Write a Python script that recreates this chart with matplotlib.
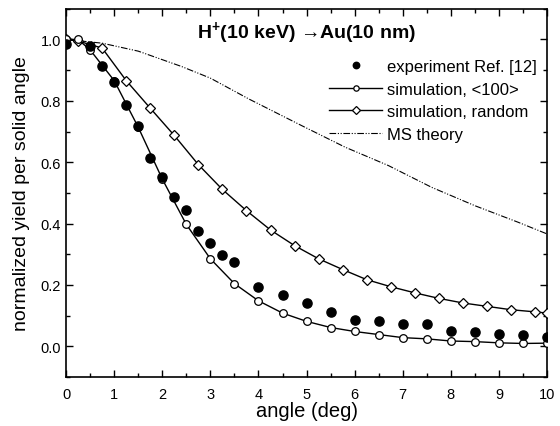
import numpy as np
import matplotlib
matplotlib.use("Agg")
import matplotlib.pyplot as plt
from matplotlib.ticker import MultipleLocator

# ---- data ----
exp_x = [0, 0.5, 0.75, 1.0, 1.25, 1.5, 1.75, 2.0, 2.25, 2.5, 2.75, 3.0, 3.25, 3.5,
         4.0, 4.5, 5.0, 5.5, 6.0, 6.5, 7.0, 7.5, 8.0, 8.5, 9.0, 9.5, 10.0]
exp_y = [0.985, 0.978, 0.913, 0.861, 0.785, 0.719, 0.613, 0.551, 0.486, 0.445, 0.377, 0.336, 0.299, 0.276,
         0.192, 0.167, 0.142, 0.112, 0.086, 0.082, 0.072, 0.072, 0.049, 0.047, 0.040, 0.035, 0.030]

sim100_x = [0, 0.25, 0.5, 1.0, 1.5, 2.0, 2.5, 3.0, 3.5, 4.0, 4.5, 5.0, 5.5, 6.0,
            6.5, 7.0, 7.5, 8.0, 8.5, 9.0, 9.5, 10.0]
sim100_y = [1.0, 1.0, 0.966, 0.866, 0.714, 0.545, 0.397, 0.285, 0.204, 0.148, 0.108, 0.081, 0.061, 0.048,
            0.038, 0.028, 0.024, 0.017, 0.015, 0.011, 0.009, 0.010]

rand_x = [0, 0.25, 0.75, 1.25, 1.75, 2.25, 2.75, 3.25, 3.75, 4.25, 4.75, 5.25, 5.75, 6.25,
          6.75, 7.25, 7.75, 8.25, 8.75, 9.25, 9.75, 10.0]
rand_y = [1.0, 0.995, 0.972, 0.866, 0.776, 0.687, 0.592, 0.511, 0.442, 0.379, 0.328, 0.285, 0.250, 0.217,
          0.194, 0.174, 0.156, 0.141, 0.130, 0.119, 0.112, 0.108]

ms_x = [0, 0.75, 1.5, 2.4, 3.0, 3.8, 4.9, 5.8, 6.7, 7.6, 8.5, 9.4, 10.0]
ms_y = [1.0, 0.988, 0.962, 0.912, 0.874, 0.806, 0.719, 0.649, 0.589, 0.518, 0.458, 0.404, 0.366]

# ---- style ----
plt.rcParams['font.family'] = ['Liberation Sans', 'DejaVu Sans']
plt.rcParams['mathtext.fontset'] = 'custom'
plt.rcParams['mathtext.rm'] = 'Liberation Sans'
plt.rcParams['mathtext.bf'] = 'Liberation Sans:bold'

fig = plt.figure(figsize=(5.6, 4.27), dpi=100)
ax = fig.add_axes([0.118, 0.115, 0.859, 0.862])

ax.plot(ms_x, ms_y, color='black', lw=0.8, linestyle=(0, (6, 1.5, 1, 1.5, 1, 1.5)),
        label='MS theory', zorder=2)
ax.plot(rand_x, rand_y, color='black', lw=1.0, marker='D', ms=5.2, mfc='white', mec='black',
        mew=0.9, label='simulation, random', zorder=3)
ax.plot(sim100_x, sim100_y, color='black', lw=1.0, marker='o', ms=5.5, mfc='white', mec='black',
        mew=0.9, label='simulation, <100>', zorder=4)
ax.plot(exp_x, exp_y, linestyle='none', marker='o', ms=6.6, color='black',
        label='experiment Ref. [12]', zorder=5)

ax.set_xlim(0, 10)
ax.set_ylim(-0.1, 1.1)
ax.xaxis.set_major_locator(MultipleLocator(1))
ax.xaxis.set_minor_locator(MultipleLocator(0.5))
ax.yaxis.set_minor_locator(MultipleLocator(0.1))
ax.set_yticks(np.arange(0, 1.01, 0.2))
ax.set_yticklabels(['0.0', '0.2', '0.4', '0.6', '0.8', '1.0'])
ax.tick_params(which='both', direction='in', top=True, right=True, labelsize=10.5, width=1.0)
ax.tick_params(which='major', length=5)
ax.tick_params(which='minor', length=3)
ax.tick_params(axis='x', pad=7)
for s in ax.spines.values():
    s.set_linewidth(1.2)

ax.set_xlabel('angle (deg)', fontsize=14.5, labelpad=0)
ax.set_ylabel('normalized yield per solid angle', fontsize=14, labelpad=8)

ax.text(0.5, 0.935, r'H$^{\mathbf{+}}$(10 keV) →Au(10 nm)', transform=ax.transAxes,
        ha='center', va='center', fontsize=14, fontweight='bold')

h, l = ax.get_legend_handles_labels()
order = [3, 2, 1, 0]
leg = ax.legend([h[i] for i in order], [l[i] for i in order], loc='upper right',
                bbox_to_anchor=(1.0, 0.89), frameon=False, fontsize=12, handlelength=3.2,
                handletextpad=0.3, labelspacing=0.45, markerscale=0.7, borderaxespad=0.2)

fig.savefig('out.png', dpi=100)
